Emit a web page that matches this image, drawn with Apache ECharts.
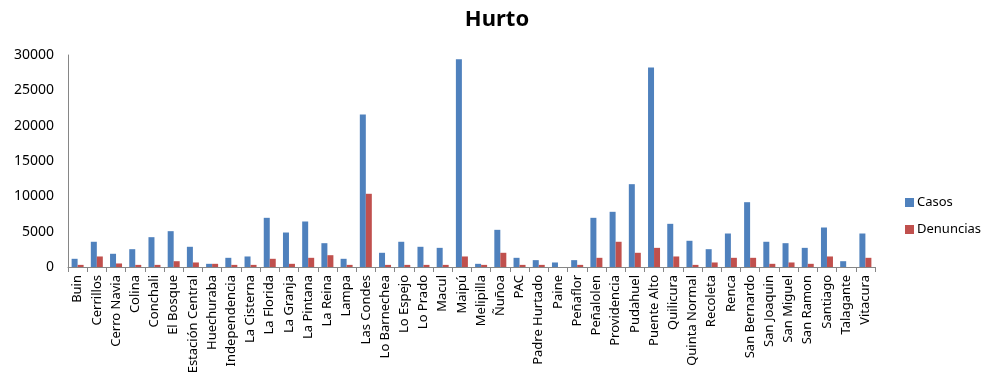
<!DOCTYPE html>
<html>
<head>
<meta charset="utf-8">
<script src="https://cdn.jsdelivr.net/npm/echarts@6/dist/echarts.min.js"></script>
<style>
  html, body { margin: 0; padding: 0; background: #ffffff; }
  #chart { width: 982px; height: 381px; }
</style>
</head>
<body>
<div id="chart"></div>
<script>
// Comunas de la Región Metropolitana
const comunas = [
  'Buin', 'Cerrillos', 'Cerro Navia', 'Colina', 'Conchali', 'El Bosque',
  'Estación Central', 'Huechuraba', 'Independencia', 'La Cisterna', 'La Florida',
  'La Granja', 'La Pintana', 'La Reina', 'Lampa', 'Las Condes', 'Lo Barnechea',
  'Lo Espejo', 'Lo Prado', 'Macul', 'Maipú', 'Melipilla', 'Ñuñoa', 'PAC',
  'Padre Hurtado', 'Paine', 'Peñaflor', 'Peñalolen', 'Providencia', 'Pudahuel',
  'Puente Alto', 'Quilicura', 'Quinta Normal', 'Recoleta', 'Renca',
  'San Bernardo', 'San Joaquin', 'San Miguel', 'San Ramon', 'Santiago',
  'Talagante', 'Vitacura'
];

// Casos de hurto por comuna
const casos = [
  1160, 3570, 1870, 2520, 4220, 5070,
  2860, 450, 1300, 1490, 6960,
  4880, 6440, 3370, 1160, 21580, 2010,
  3570, 2860, 2710, 29400, 450, 5260, 1300,
  970, 640, 970, 6960, 7810, 11720,
  28230, 6110, 3710, 2520, 4740,
  9170, 3570, 3370, 2710, 5590,
  820, 4740
];

// Denuncias de hurto por comuna
const denuncias = [
  300, 1490, 500, 300, 300, 820,
  640, 450, 300, 300, 1160,
  450, 1300, 1670, 300, 10360, 300,
  300, 300, 300, 1490, 300, 2010, 300,
  300, 0, 300, 1300, 3570, 2010,
  2710, 1490, 300, 640, 1300,
  1300, 450, 640, 450, 1490,
  0, 1300
];

const yTicks = { min: 0, max: 30000, interval: 5000 };

const font = 'Noto Sans, Liberation Sans, sans-serif';
const chart = echarts.init(document.getElementById('chart'), null, { renderer: 'canvas' });

chart.setOption({
  animation: false,
  backgroundColor: '#ffffff',
  title: {
    text: 'Hurto',
    left: 492,
    textAlign: 'center',
    top: 4,
    textStyle: { fontFamily: font, fontSize: 22, fontWeight: 'bold', color: '#000000' }
  },
  legend: {
    orient: 'vertical',
    left: 900,
    top: 191,
    itemWidth: 9,
    itemHeight: 9,
    itemGap: 14,
    icon: 'rect',
    textStyle: { fontFamily: font, fontSize: 13, color: '#000000', padding: [0, 0, 0, -2] },
    data: ['Casos', 'Denuncias']
  },
  grid: { left: 68, right: 107, top: 55, bottom: 114, containLabel: false },
  xAxis: {
    type: 'category',
    data: comunas,
    boundaryGap: true,
    axisLine: { lineStyle: { color: '#868686', width: 1 } },
    axisTick: { show: true, alignWithLabel: false, length: 5, lineStyle: { color: '#868686' } },
    axisLabel: {
      rotate: 90,
      interval: 0,
      margin: 8,
      fontFamily: font,
      fontSize: 13,
      color: '#000000'
    }
  },
  yAxis: {
    type: 'value',
    min: yTicks.min,
    max: yTicks.max,
    interval: yTicks.interval,
    splitLine: { show: false },
    axisLine: { show: true, lineStyle: { color: '#868686', width: 1 } },
    axisTick: { show: false },
    axisLabel: {
      fontFamily: font,
      fontSize: 14,
      color: '#000000',
      margin: 14,
      formatter: (v) => String(v)
    }
  },
  series: [
    {
      name: 'Casos',
      type: 'bar',
      data: casos,
      barWidth: 6,
      barGap: '0%',
      itemStyle: { color: '#4F81BD' }
    },
    {
      name: 'Denuncias',
      type: 'bar',
      data: denuncias,
      barWidth: 6,
      itemStyle: { color: '#C0504D' }
    }
  ]
});
</script>
</body>
</html>
